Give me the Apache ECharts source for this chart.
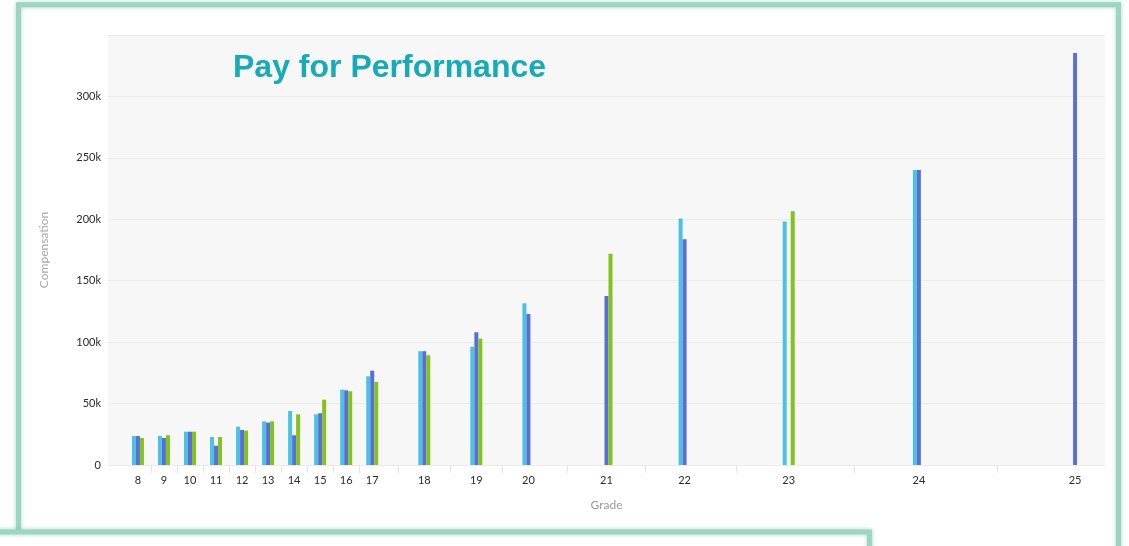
<!DOCTYPE html>
<html>
<head>
<meta charset="utf-8">
<title>Pay for Performance</title>
<script src="https://cdn.jsdelivr.net/npm/echarts@6/dist/echarts.min.js"></script>
<style>
  html, body { margin: 0; padding: 0; background: #ffffff; }
  #chart { width: 1129px; height: 546px; }
</style>
</head>
<body>
<div id="chart"></div>
<script>
// Grade categories along the x axis
const grades = ['8', '9', '10', '11', '12', '13', '14', '15', '16', '17', '18', '19', '20', '21', '22', '23', '24', '25'];

// Distance between neighbouring grades on the x scale (upper grades are spread wider)
const gradeSteps = [1, 1, 1, 1, 1, 1, 1, 1, 1, 2, 2, 2, 3, 3, 4, 5, 6];

// Compensation per grade for the three groups (null = no value)
const groupA = [23600, 23600, 27100, 22800, 31200, 35500, 44000, 41200, 61300, 72200, 92600, 96100, 131700, null, 200600, 198100, 240200, null];
const groupB = [23600, 22000, 27100, 15700, 28500, 34500, 24200, 42100, 60800, 76800, 92600, 108000, 123000, 137600, 183800, null, 240200, 335300];
const groupC = [22000, 24200, 27100, 22800, 28000, 35500, 41200, 53200, 60000, 67600, 89300, 102900, null, 172000, null, 206600, null, null];

// Y axis ticks
const yTicks = [0, 50000, 100000, 150000, 200000, 250000, 300000, 350000];

// Position of each grade on the x scale
const gradePos = [0];
gradeSteps.forEach((s, i) => gradePos.push(gradePos[i] + s));
// Tick marks sit halfway between neighbouring grades
const tickPos = gradePos.slice(1).map((p, i) => (p + gradePos[i]) / 2);
const pad = 1.15;

function toPoints(values) {
  const pts = [];
  values.forEach((v, i) => { if (v !== null) pts.push([gradePos[i], v]); });
  return pts;
}

const colors = ['#4cc1e2', '#5a6fd6', '#83c21f'];
const teal = '#9cd5c2';

const chart = echarts.init(document.getElementById('chart'), null, { renderer: 'canvas' });

chart.setOption({
  animation: false,
  backgroundColor: '#ffffff',
  title: {
    text: 'Pay for Performance',
    left: 228,
    top: 47,
    textStyle: {
      color: '#17aab8',
      fontSize: 32,
      fontWeight: 'bold',
      fontFamily: 'Liberation Sans, Arial, sans-serif'
    }
  },
  grid: {
    left: 108,
    right: 24,
    top: 35,
    bottom: 81,
    show: true,
    backgroundColor: '#f7f7f7',
    borderWidth: 0
  },
  xAxis: {
    type: 'value',
    min: -pad,
    max: gradePos[gradePos.length - 1] + pad,
    name: 'Grade',
    nameLocation: 'middle',
    nameGap: 34,
    nameTextStyle: { color: '#9a9a9a', fontSize: 12, fontFamily: 'Lato, sans-serif' },
    axisLine: { show: false },
    splitLine: { show: false },
    axisTick: {
      show: true,
      customValues: tickPos,
      length: 8,
      lineStyle: { color: '#e4e4e4', width: 1 }
    },
    axisLabel: {
      customValues: gradePos,
      margin: 10,
      color: '#2a2a2a',
      fontSize: 11,
      fontFamily: 'Lato, sans-serif',
      formatter: function (v) {
        const i = gradePos.indexOf(Math.round(v));
        return i >= 0 ? grades[i] : '';
      }
    }
  },
  yAxis: {
    type: 'value',
    min: yTicks[0],
    max: yTicks[yTicks.length - 1],
    interval: yTicks[1] - yTicks[0],
    name: 'Compensation',
    nameLocation: 'middle',
    nameGap: 58,
    nameTextStyle: { color: '#a8a8a8', fontSize: 12, fontFamily: 'Lato, sans-serif' },
    axisLine: { show: false },
    axisTick: { show: false },
    splitLine: { show: true, lineStyle: { color: '#ebebeb', width: 1 } },
    axisLabel: {
      showMaxLabel: false,
      margin: 7,
      color: '#2a2a2a',
      fontSize: 11,
      fontFamily: 'Lato, sans-serif',
      formatter: function (v) { return v === 0 ? '0' : (v / 1000) + 'k'; }
    }
  },
  series: [
    { name: 'Group A', type: 'bar', data: toPoints(groupA), barWidth: 4, barGap: '0%', itemStyle: { color: colors[0] } },
    { name: 'Group B', type: 'bar', data: toPoints(groupB), barWidth: 4, barGap: '0%', itemStyle: { color: colors[1] } },
    { name: 'Group C', type: 'bar', data: toPoints(groupC), barWidth: 4, barGap: '0%', itemStyle: { color: colors[2] } }
  ],
  graphic: [
    {
      type: 'rect',
      z: 100,
      silent: true,
      shape: { x: 18.5, y: 4.7, width: 1100, height: 620 },
      style: { fill: 'none', stroke: teal, lineWidth: 5, shadowBlur: 4, shadowColor: 'rgba(120,190,170,0.6)' }
    },
    {
      type: 'rect',
      z: 101,
      silent: true,
      shape: { x: -10, y: 532, width: 879.5, height: 100 },
      style: { fill: '#ffffff', stroke: teal, lineWidth: 5, shadowBlur: 4, shadowColor: 'rgba(120,190,170,0.6)' }
    }
  ]
});
</script>
</body>
</html>
